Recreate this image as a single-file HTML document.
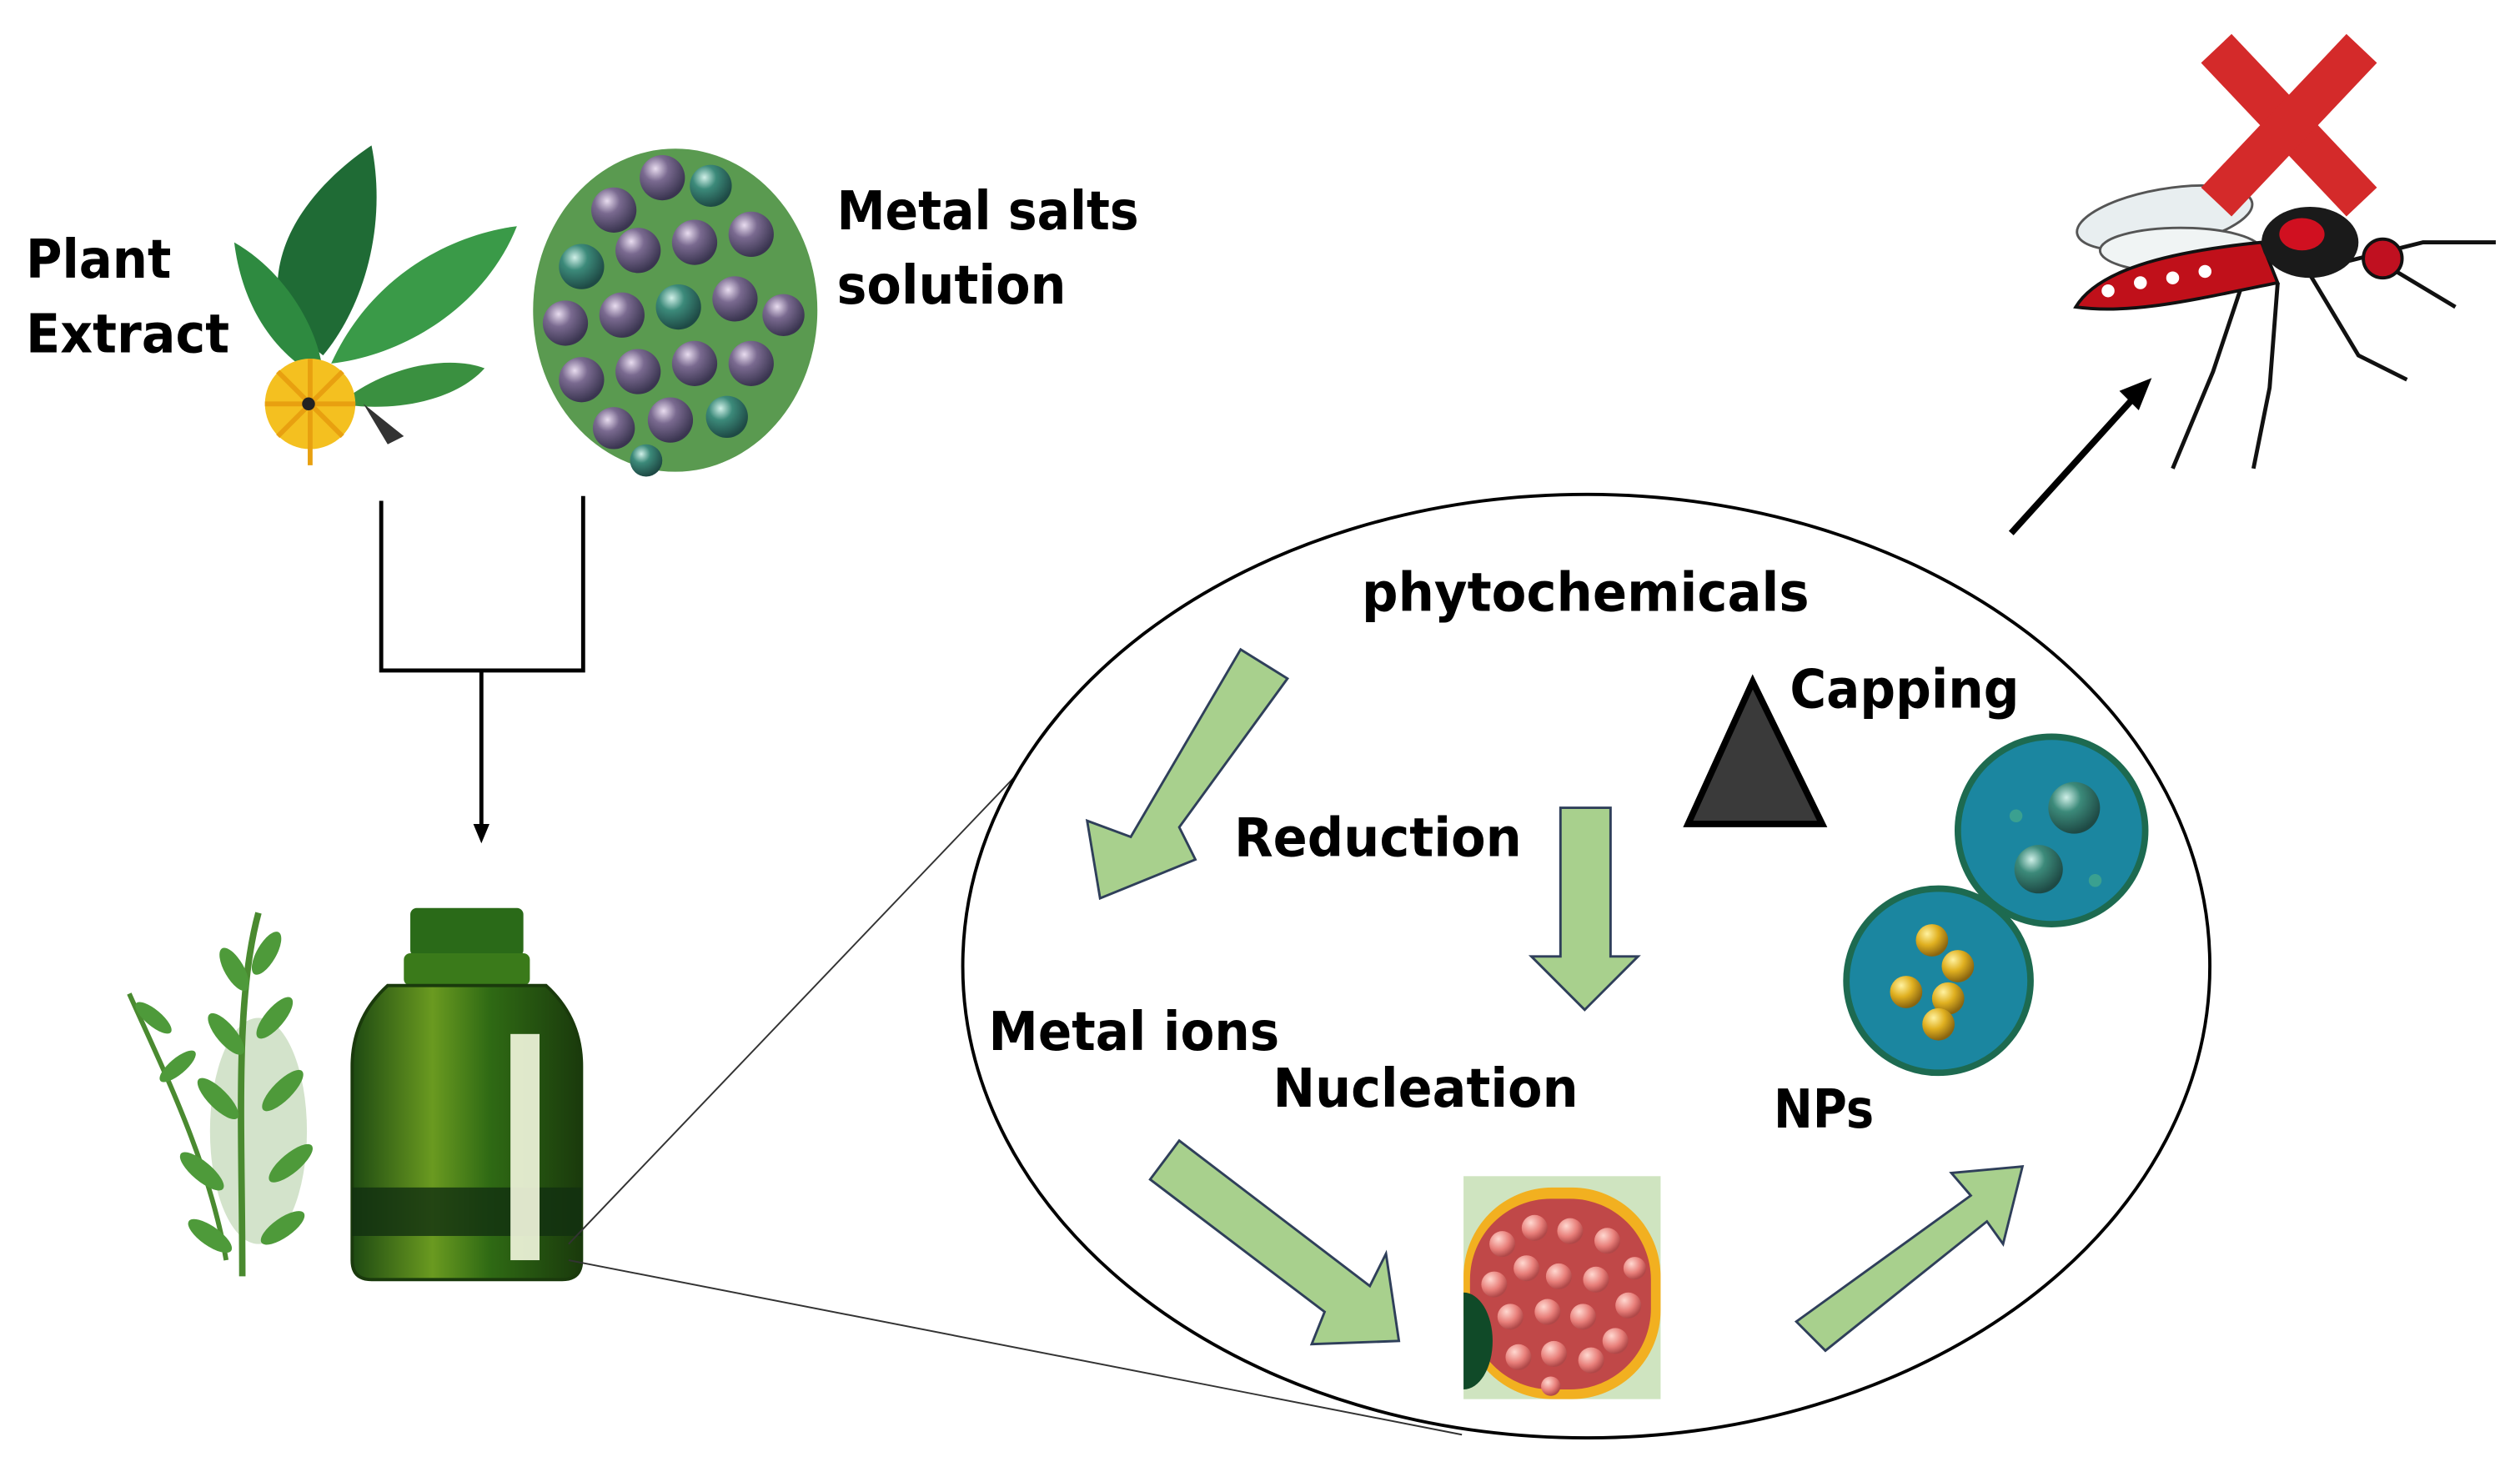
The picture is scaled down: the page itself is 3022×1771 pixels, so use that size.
<!DOCTYPE html>
<html><head><meta charset="utf-8"><style>
html,body{margin:0;padding:0;background:#fff}
svg{display:block}
text{font-family:"DejaVu Sans","Liberation Sans",sans-serif;font-weight:bold;fill:#000}
</style></head><body>
<svg width="3022" height="1771" viewBox="0 0 1560 914.2" preserveAspectRatio="none" xmlns="http://www.w3.org/2000/svg">
<defs>
<radialGradient id="ball" cx="35%" cy="30%" r="70%"><stop offset="0" stop-color="#e8dcef"/><stop offset="0.4" stop-color="#7a6a90"/><stop offset="1" stop-color="#3a3550"/></radialGradient>
<radialGradient id="gball" cx="35%" cy="30%" r="70%"><stop offset="0" stop-color="#d0f0e8"/><stop offset="0.4" stop-color="#3c8a7a"/><stop offset="1" stop-color="#1e4a45"/></radialGradient>
<radialGradient id="gold" cx="35%" cy="30%" r="70%"><stop offset="0" stop-color="#fff2a0"/><stop offset="0.5" stop-color="#e0b020"/><stop offset="1" stop-color="#8a6510"/></radialGradient>
<radialGradient id="pink" cx="35%" cy="30%" r="70%"><stop offset="0" stop-color="#ffd8d0"/><stop offset="0.6" stop-color="#e87f7a"/><stop offset="1" stop-color="#b04848"/></radialGradient>
<linearGradient id="bottle" x1="0" x2="1"><stop offset="0" stop-color="#1e4a12"/><stop offset="0.35" stop-color="#6a9a20"/><stop offset="0.6" stop-color="#2f6a14"/><stop offset="1" stop-color="#1a3a0c"/></linearGradient>
</defs>

<!-- Plant extract -->
<path d="M175,200 C160,150 200,110 230,90 C240,140 225,190 200,220 Z" fill="#1f6b35"/>
<path d="M145,150 C180,170 200,210 200,235 C170,220 150,190 145,150 Z" fill="#2e8a40"/>
<path d="M205,225 C230,170 280,145 320,140 C300,190 250,220 205,225 Z" fill="#3a9a48"/>
<path d="M210,250 C240,225 280,220 300,228 C280,250 240,255 210,250 Z" fill="#3a9040"/>
<circle cx="192" cy="250" r="28" fill="#f4c020"/>
<g stroke="#e8a010" stroke-width="3">
<line x1="164" y1="250" x2="220" y2="250"/><line x1="192" y1="222" x2="192" y2="288"/><line x1="172" y1="230" x2="212" y2="270"/><line x1="212" y1="230" x2="172" y2="270"/>
</g>
<circle cx="191" cy="250" r="4" fill="#222"/>
<path d="M225,250 l15,25 l10,-5 z" fill="#333"/>

<!-- Metal salts -->
<ellipse cx="418" cy="192" rx="88" ry="100" fill="#5a9a50"/>
<g>
<circle cx="380" cy="130" r="14" fill="url(#ball)"/><circle cx="410" cy="110" r="14" fill="url(#ball)"/><circle cx="440" cy="115" r="13" fill="url(#gball)"/>
<circle cx="360" cy="165" r="14" fill="url(#gball)"/><circle cx="395" cy="155" r="14" fill="url(#ball)"/><circle cx="430" cy="150" r="14" fill="url(#ball)"/><circle cx="465" cy="145" r="14" fill="url(#ball)"/>
<circle cx="350" cy="200" r="14" fill="url(#ball)"/><circle cx="385" cy="195" r="14" fill="url(#ball)"/><circle cx="420" cy="190" r="14" fill="url(#gball)"/><circle cx="455" cy="185" r="14" fill="url(#ball)"/><circle cx="485" cy="195" r="13" fill="url(#ball)"/>
<circle cx="360" cy="235" r="14" fill="url(#ball)"/><circle cx="395" cy="230" r="14" fill="url(#ball)"/><circle cx="430" cy="225" r="14" fill="url(#ball)"/><circle cx="465" cy="225" r="14" fill="url(#ball)"/>
<circle cx="380" cy="265" r="13" fill="url(#ball)"/><circle cx="415" cy="260" r="14" fill="url(#ball)"/><circle cx="450" cy="258" r="13" fill="url(#gball)"/><circle cx="400" cy="285" r="10" fill="url(#gball)"/>
</g>

<text x="16" y="172" font-size="33" textLength="90" lengthAdjust="spacingAndGlyphs">Plant</text>
<text x="16" y="218" font-size="33" textLength="126" lengthAdjust="spacingAndGlyphs">Extract</text>
<text x="518" y="142" font-size="33" textLength="187" lengthAdjust="spacingAndGlyphs">Metal salts</text>
<text x="518" y="188" font-size="33" textLength="142" lengthAdjust="spacingAndGlyphs">solution</text>

<!-- bracket -->
<polyline points="236,310 236,415 361,415 361,307" fill="none" stroke="#000" stroke-width="2.5"/>
<line x1="298" y1="415" x2="298" y2="512" stroke="#000" stroke-width="2.5"/>
<polygon points="293,510 303,510 298,522" fill="#000"/>

<!-- herb -->
<ellipse cx="160" cy="700" rx="30" ry="70" fill="#a8c898" opacity="0.5"/>
<path d="M150,790 C150,700 145,620 160,565" stroke="#4a8a30" stroke-width="4" fill="none"/>
<path d="M140,780 C130,720 100,660 80,615" stroke="#4a8a30" stroke-width="3" fill="none"/>
<g fill="#4e9a3a">
<ellipse cx="165" cy="590" rx="6" ry="15" transform="rotate(30 165 590)"/><ellipse cx="145" cy="600" rx="6" ry="15" transform="rotate(-30 145 600)"/>
<ellipse cx="170" cy="630" rx="6" ry="16" transform="rotate(40 170 630)"/><ellipse cx="140" cy="640" rx="6" ry="16" transform="rotate(-40 140 640)"/>
<ellipse cx="175" cy="675" rx="6" ry="17" transform="rotate(45 175 675)"/><ellipse cx="135" cy="680" rx="6" ry="17" transform="rotate(-45 135 680)"/>
<ellipse cx="180" cy="720" rx="6" ry="17" transform="rotate(50 180 720)"/><ellipse cx="125" cy="725" rx="6" ry="17" transform="rotate(-50 125 725)"/>
<ellipse cx="95" cy="630" rx="5" ry="14" transform="rotate(-50 95 630)"/><ellipse cx="110" cy="660" rx="5" ry="14" transform="rotate(50 110 660)"/>
<ellipse cx="175" cy="760" rx="6" ry="16" transform="rotate(55 175 760)"/><ellipse cx="130" cy="765" rx="6" ry="16" transform="rotate(-55 130 765)"/>
</g>

<!-- bottle -->
<rect x="254" y="562" width="70" height="30" rx="4" fill="#2a6a18"/>
<rect x="250" y="590" width="78" height="20" rx="4" fill="#3a7a1a"/>
<path d="M240,610 L338,610 Q360,630 360,660 L360,780 Q360,792 348,792 L230,792 Q218,792 218,780 L218,660 Q218,630 240,610 Z" fill="url(#bottle)" stroke="#1a3a0c" stroke-width="2"/>
<rect x="218" y="735" width="142" height="30" fill="#123010" opacity="0.8"/>
<rect x="316" y="640" width="18" height="140" fill="#f4f8e0" opacity="0.9"/>

<!-- zoom lines -->
<line x1="352" y1="770" x2="712" y2="393" stroke="#333" stroke-width="1"/>
<line x1="352" y1="780" x2="905" y2="888" stroke="#333" stroke-width="1"/>

<!-- ellipse -->
<ellipse cx="982" cy="598" rx="386" ry="292" fill="#fff" stroke="#000" stroke-width="2"/>

<text x="843" y="378" font-size="33" textLength="277" lengthAdjust="spacingAndGlyphs">phytochemicals</text>
<text x="1108" y="438" font-size="33" textLength="142" lengthAdjust="spacingAndGlyphs">Capping</text>
<text x="764" y="530" font-size="33" textLength="178" lengthAdjust="spacingAndGlyphs">Reduction</text>
<text x="612" y="650" font-size="33" textLength="180" lengthAdjust="spacingAndGlyphs">Metal ions</text>
<text x="788" y="685" font-size="33" textLength="189" lengthAdjust="spacingAndGlyphs">Nucleation</text>
<text x="1098" y="698" font-size="33" textLength="62" lengthAdjust="spacingAndGlyphs">NPs</text>

<!-- green arrows -->
<g fill="#a8d08d" stroke="#2f3f5a" stroke-width="1.5">
<polygon points="768,402 797,420 730,512 740,532 681,556 673,508 700,518"/>
<polygon points="966,500 997,500 997,592 1014,592 981,625 948,592 966,592"/>
<polygon points="730,706 712,730 820,812 812,832 866,830 858,776 848,796"/>
<polygon points="1112,818 1130,836 1230,756 1240,770 1252,722 1208,726 1220,740"/>
</g>

<!-- triangle -->
<polygon points="1085,422 1045,510 1128,510" fill="#3a3a3a" stroke="#000" stroke-width="4"/>

<!-- NPs -->
<circle cx="1270" cy="514" r="58" fill="#1b86a0" stroke="#1d6a50" stroke-width="4"/>
<circle cx="1284" cy="500" r="16" fill="url(#gball)"/><circle cx="1262" cy="538" r="15" fill="url(#gball)"/>
<circle cx="1248" cy="505" r="4" fill="#3aa090"/><circle cx="1297" cy="545" r="4" fill="#3aa090"/>
<circle cx="1200" cy="607" r="57" fill="#1b86a0" stroke="#1d6a50" stroke-width="4"/>
<circle cx="1196" cy="582" r="10" fill="url(#gold)"/><circle cx="1212" cy="598" r="10" fill="url(#gold)"/><circle cx="1206" cy="618" r="10" fill="url(#gold)"/><circle cx="1180" cy="614" r="10" fill="url(#gold)"/><circle cx="1200" cy="634" r="10" fill="url(#gold)"/>

<!-- nucleation -->
<rect x="906" y="728" width="122" height="138" fill="#cfe4c0"/>
<rect x="906" y="735" width="122" height="131" rx="55" fill="#f2b020"/>
<rect x="910" y="742" width="112" height="118" rx="50" fill="#c04848"/>
<g fill="url(#pink)">
<circle cx="930" cy="770" r="8"/><circle cx="950" cy="760" r="8"/><circle cx="972" cy="762" r="8"/><circle cx="995" cy="768" r="8"/><circle cx="1012" cy="785" r="7"/>
<circle cx="925" cy="795" r="8"/><circle cx="945" cy="785" r="8"/><circle cx="965" cy="790" r="8"/><circle cx="988" cy="792" r="8"/><circle cx="1008" cy="808" r="8"/>
<circle cx="935" cy="815" r="8"/><circle cx="958" cy="812" r="8"/><circle cx="980" cy="815" r="8"/><circle cx="1000" cy="830" r="8"/>
<circle cx="940" cy="840" r="8"/><circle cx="962" cy="838" r="8"/><circle cx="985" cy="842" r="8"/><circle cx="960" cy="858" r="6"/>
</g>
<path d="M906,800 A18,30 0 0 1 906,860 Z" fill="#104a28"/>

<!-- black arrow -->
<line x1="1245" y1="330" x2="1322" y2="245" stroke="#000" stroke-width="4"/>
<polygon points="1332,234 1312,242 1324,254" fill="#000"/>

<!-- mosquito -->
<g stroke="#111" stroke-width="2.5" fill="none">
<path d="M1390,170 L1370,230 L1345,290"/><path d="M1410,175 L1405,240 L1395,290"/><path d="M1430,170 L1460,220 L1490,235"/>
<path d="M1440,165 L1500,150 L1545,150"/><path d="M1470,160 L1520,190"/>
</g>
<ellipse cx="1340" cy="135" rx="55" ry="18" fill="#e8eef0" stroke="#555" stroke-width="1.5" transform="rotate(-10 1340 135)"/>
<ellipse cx="1350" cy="155" rx="50" ry="14" fill="#f0f4f4" stroke="#555" stroke-width="1.5"/>
<path d="M1285,190 C1300,165 1350,155 1400,150 L1410,175 C1360,185 1320,195 1285,190 Z" fill="#c0101a" stroke="#111" stroke-width="2"/>
<g fill="#fff"><circle cx="1305" cy="180" r="4"/><circle cx="1325" cy="175" r="4"/><circle cx="1345" cy="172" r="4"/><circle cx="1365" cy="168" r="4"/></g>
<ellipse cx="1430" cy="150" rx="30" ry="22" fill="#1a1a1a"/>
<ellipse cx="1425" cy="145" rx="14" ry="10" fill="#d01020"/>
<circle cx="1475" cy="160" r="12" fill="#c01020" stroke="#111" stroke-width="2"/>
<!-- red X -->
<g stroke="#d42a2a" stroke-width="26" stroke-linecap="butt">
<line x1="1372" y1="30" x2="1462" y2="125"/><line x1="1462" y1="30" x2="1372" y2="125"/>
</g>
</svg>
</body></html>
